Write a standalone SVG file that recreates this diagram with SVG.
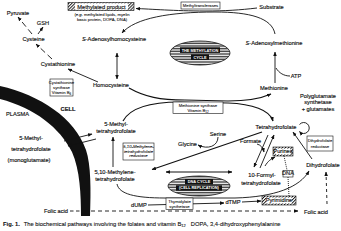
<svg xmlns="http://www.w3.org/2000/svg" width="341" height="231" viewBox="0 0 341 231">
<defs>
<style>
text{font-family:"Liberation Sans",Arial,Helvetica,sans-serif;fill:#111;stroke:#111;stroke-width:0.15px;text-anchor:middle;font-size:5.7px}
.sm{font-size:4.2px;stroke-width:0.08px}
.it{font-style:italic}
.ln{fill:none;stroke:#111;stroke-width:0.9}
.th{stroke-width:1.2}
.box{fill:#fff;stroke:#111;stroke-width:0.6}
.hb{fill:url(#hat);stroke:#111;stroke-width:0.6}
.wt{fill:#fff;stroke:none;font-weight:bold;font-size:3.9px}
.cap{text-anchor:start;font-size:5.8px;stroke-width:0.1px}
</style>
<marker id="ah" viewBox="0 0 10 10" refX="9" refY="5" markerWidth="4.5" markerHeight="4.5" markerUnits="userSpaceOnUse" orient="auto-start-reverse"><path d="M0,1L10,5L0,9z" fill="#111"/></marker>
<pattern id="str" width="4" height="1.6" patternUnits="userSpaceOnUse"><rect width="4" height="0.75" fill="#222"/></pattern>
<pattern id="hat" width="2.2" height="2.2" patternUnits="userSpaceOnUse" patternTransform="rotate(45)"><rect width="0.9" height="2.2" fill="#111"/></pattern>
</defs>
<rect width="341" height="231" fill="#fff"/>

<g id="membrane"><path d="M0 86 C40 95 75 118 86 150 C91 165 91 190 90 216 L81 216 C81 195 80 170 72 152 C60 128 35 108 0 99Z" fill="#111"/></g>

<g id="connectors">
<path class="ln" d="M257 8 C240 10 225 11 205 11 C175 11 150 9 136 8.5" marker-end="url(#ah)"/>
<path class="ln" d="M275 34 C272 18 250 12 215 12 C170 12 135 18 122 33" marker-end="url(#ah)"/>
<line class="ln" x1="117" y1="53" x2="117" y2="79" marker-start="url(#ah)" marker-end="url(#ah)"/>
<line class="ln" x1="275" y1="83" x2="275" y2="52" marker-end="url(#ah)"/>
<path class="ln" d="M290 76 C284 76 279 73 276 68"/>
<line class="ln" x1="98" y1="82" x2="68" y2="69" marker-end="url(#ah)"/>
<line class="ln" x1="52" y1="59" x2="36" y2="44" stroke-dasharray="6 3.5" marker-end="url(#ah)"/>
<line class="ln" x1="32" y1="34" x2="18" y2="17" stroke-dasharray="6 3.5" marker-end="url(#ah)"/>
<line class="ln" x1="38" y1="34" x2="43" y2="27" marker-end="url(#ah)"/>
<path class="ln th" d="M129 88 C145 97 160 100 185 100 L228 101 C248 101 262 98 271 94" marker-end="url(#ah)"/>
<path class="ln th" d="M123 121 C130 108 150 102 180 102 L228 103 C252 104 270 110 273 121" marker-end="url(#ah)"/>
<line class="ln" x1="113" y1="167" x2="113" y2="137" marker-end="url(#ah)"/>
<line class="ln" x1="64" y1="141" x2="92" y2="134" marker-end="url(#ah)"/>
<line class="ln" x1="96" y1="139" x2="68" y2="146" marker-end="url(#ah)"/>
<line class="ln th" x1="262" y1="132" x2="152" y2="169.5" marker-end="url(#ah)"/>
<path class="ln" d="M218 137 C218 146 208 150 198 145" marker-end="url(#ah)"/>
<path class="ln" d="M299.5 124.5 A5.5 5.5 0 1 1 299.5 131.5" marker-end="url(#ah)"/>
<path class="ln" d="M257 144 C261 145 263 148 264 152" marker-end="url(#ah)"/>
<line class="ln" x1="268" y1="135" x2="254" y2="167" marker-end="url(#ah)"/>
<line class="ln" x1="260" y1="168" x2="274" y2="135" marker-end="url(#ah)"/>
<path class="ln" d="M265 166 C268 161 271 159 275 157" marker-end="url(#ah)"/>
<line class="ln" x1="284" y1="156" x2="287" y2="170" stroke-dasharray="1 1"/>
<line class="ln" x1="289" y1="196" x2="288" y2="177" stroke-dasharray="1 1"/>
<line class="ln" x1="312" y1="159" x2="293" y2="132" marker-end="url(#ah)"/>
<line class="ln th" x1="166" y1="172" x2="232" y2="172" marker-start="url(#ah)" marker-end="url(#ah)"/>
<path class="ln" d="M117 184 C119 194 135 198 165 198 L235 198 C275 197 300 187 309 171" marker-end="url(#ah)"/>
<line class="ln" x1="148" y1="205" x2="224" y2="203" marker-end="url(#ah)"/>
<line class="ln" x1="242" y1="202" x2="261" y2="201" marker-end="url(#ah)"/>
<line class="ln" x1="70" y1="211" x2="81" y2="211" stroke-dasharray="3.5 2.5"/>
<line class="ln" x1="91" y1="211" x2="298" y2="211" stroke-dasharray="4 3" marker-end="url(#ah)"/>
<line class="ln" x1="327" y1="204" x2="326" y2="172" stroke-dasharray="3 3" marker-end="url(#ah)"/>
</g>

<g id="pyruvate"><text x="18" y="14.5">Pyruvate</text></g>
<g id="gsh"><text x="43" y="25">GSH</text></g>
<g id="cysteine"><text x="33.5" y="41">Cysteine</text></g>
<g id="cystathionine"><text x="58" y="65.5">Cystathionine</text></g>
<g id="cystathionine-synthase"><rect class="box" x="50" y="79" width="23" height="17"/><text class="sm" x="61.5" y="84">Cystathionine</text><text class="sm" x="61.5" y="89">synthase</text><text class="sm" x="61.5" y="94">Vitamin B<tspan font-size="3px" dy="0.8">6</tspan></text></g>
<g id="methylated-product"><rect class="hb" x="68" y="2.5" width="66" height="8"/><rect x="75" y="3.3" width="53" height="6.4" fill="#fff"/><text x="101.5" y="8.8" font-size="5.6px">Methylated product</text><text class="sm" x="102" y="16">(<tspan class="it">e.g.</tspan> methylated lipids, myelin</text><text class="sm" x="102" y="21">basic protein, DOPA, DNA)</text></g>
<g id="methyltransferases"><rect class="box" x="181" y="2" width="39" height="7"/><text class="sm" x="200.5" y="7">Methyltransferases</text></g>
<g id="substrate"><text x="271.5" y="9">Substrate</text></g>
<g id="sah"><text x="114" y="40.5"><tspan class="it">S</tspan>-Adenosylhomocysteine</text></g>
<g id="sam"><text x="274" y="44.5"><tspan class="it">S</tspan>-Adenosylmethionine</text></g>
<g id="methylation-cycle"><ellipse cx="200" cy="53" rx="30" ry="12" fill="url(#str)" stroke="#111" stroke-width="0.8"/><rect x="180" y="47.3" width="40" height="5.6" fill="#111"/><rect x="191" y="54.3" width="18" height="5.6" fill="#111"/><text class="wt" x="200" y="51.6">THE METHYLATION</text><text class="wt" x="200" y="58.6">CYCLE</text></g>
<g id="atp"><text x="296" y="78">ATP</text></g>
<g id="homocysteine"><text x="111" y="86.5">Homocysteine</text></g>
<g id="methionine"><text x="274" y="89.5">Methionine</text></g>
<g id="methionine-synthase"><rect class="box" x="173" y="102" width="50" height="11.5"/><text class="sm" x="198" y="106.8">Methionine synthase</text><text class="sm" x="198" y="111.8">Vitamin B<tspan font-size="3px" dy="0.8">12</tspan></text></g>
<g id="polyglutamate"><text x="318" y="98">Polyglutamate</text><text x="318" y="104">synthetase</text><text x="318" y="110.5">+ glutamates</text></g>
<g id="cell-label"><text x="68" y="111" font-weight="bold" font-size="5.4px">CELL</text></g>
<g id="plasma-label"><text x="17.5" y="116" font-size="5.4px">PLASMA</text></g>
<g id="methyl-thf"><text x="116" y="126">5-Methyl-</text><text x="116" y="132.5">tetrahydrofolate</text></g>
<g id="thf"><text x="276" y="129">Tetrahydrofolate</text></g>
<g id="plasma-methyl-thf"><text x="31" y="140">5-Methyl-</text><text x="31" y="151">tetrahydrofolate</text><text x="29" y="162">(monoglutamate)</text></g>
<g id="serine"><text x="218" y="136">Serine</text></g>
<g id="glycine"><text x="187.5" y="146">Glycine</text></g>
<g id="formate"><text x="250.5" y="143">Formate</text></g>
<g id="dhf-reductase"><rect class="box" x="307" y="136" width="26" height="15"/><text class="sm" x="320" y="142">Dihydrofolate</text><text class="sm" x="320" y="147.5">reductase</text></g>
<g id="mthfr"><rect class="box" x="123" y="143" width="31" height="17"/><text class="sm it" x="138.5" y="148">5,10-Methylene-</text><text class="sm it" x="138.5" y="152.5">tetrahydrofolate</text><text class="sm it" x="138.5" y="157">reductase</text></g>
<g id="purines"><rect class="hb" x="273" y="147" width="20" height="9"/><rect x="275.5" y="148.5" width="15" height="6" fill="#fff"/><text x="283" y="153.2" font-size="3.9px" stroke-width="0.08px">Purines</text></g>
<g id="dihydrofolate"><text x="323" y="167">Dihydrofolate</text></g>
<g id="dna"><rect class="box" x="283" y="170.5" width="10" height="6.5"/><text x="288" y="175.3" font-size="3.4px" stroke-width="0.05px">DNA</text></g>
<g id="methylene-thf"><text x="115" y="174">5,10-Methylene-</text><text x="115" y="181">tetrahydrofolate</text></g>
<g id="formyl-thf"><text x="262" y="177">10-Formyl-</text><text x="261" y="184.5">tetrahydrofolate</text></g>
<g id="dna-cycle"><ellipse cx="199" cy="186" rx="31" ry="10" fill="url(#str)" stroke="#111" stroke-width="0.8"/><rect x="185" y="179" width="28" height="5.4" fill="#111"/><rect x="176" y="185.3" width="46" height="5.4" fill="#111"/><text class="wt" x="199" y="183">DNA CYCLE</text><text class="wt" x="199" y="189.3">(CELL REPLICATION)</text></g>
<g id="pyrimidine"><rect class="hb" x="262" y="196" width="34" height="9"/><rect x="266" y="197.5" width="26" height="6" fill="#fff"/><text x="279" y="202.3" font-size="4.4px" stroke-width="0.08px">Pyrimidine</text></g>
<g id="thymidylate-synthetase"><rect class="box" x="166" y="198" width="27" height="11.5"/><text class="sm" x="179.5" y="202.8">Thymidylate</text><text class="sm" x="179.5" y="207.8">synthetase</text></g>
<g id="dump"><text x="139" y="207">dUMP</text></g>
<g id="dtmp"><text x="233" y="204">dTMP</text></g>
<g id="folic-acid-left"><text x="56" y="213">Folic acid</text></g>
<g id="folic-acid-right"><text x="316" y="213.5">Folic acid</text></g>

<g id="caption"><text class="cap" x="3" y="226"><tspan font-weight="bold">Fig. 1.</tspan><tspan dx="4">The biochemical pathways involving the folates and vitamin B</tspan><tspan font-size="4px" dy="1.4">12</tspan><tspan dx="5" dy="-1.4">DOPA, 3,4-dihydroxyphenylalanine</tspan></text></g>
</svg>
